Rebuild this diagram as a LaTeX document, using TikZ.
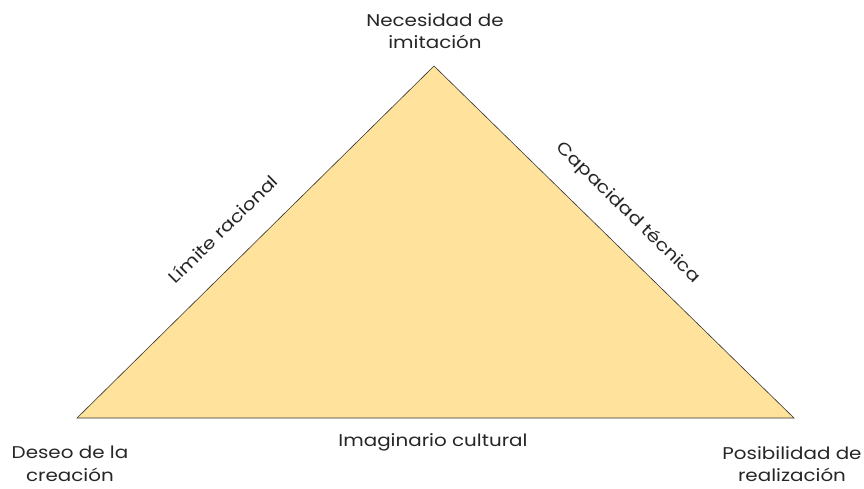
\documentclass[tikz,border=0pt]{standalone}
\usepackage{fontspec}
\setmainfont[FakeStretch=1.17]{Poppins}
\definecolor{tri}{HTML}{FFE29C}
\begin{document}
\begin{tikzpicture}[x=1pt,y=-1pt,
  lbl/.style={font=\fontsize{17}{22.5}\selectfont, align=center, inner sep=0pt, text=black!85}]
\useasboundingbox (0,0) rectangle (864,488);
\coordinate (A) at (434,66);
\coordinate (L) at (77,418);
\coordinate (R) at (794,418);
\filldraw[fill=tri, draw=black!80, line width=0.6pt] (A) -- (R) -- (L) -- cycle;
\node[lbl] (top) at (435,31) {Necesidad de\\imitación};
\node[lbl] (dl) at (70,464) {Deseo de la\\creación};
\node[lbl] (dr) at (792,464) {Posibilidad de\\realización};
\node[lbl] (ic) at (433,442) {Imaginario cultural};
\node[lbl, rotate=44.6] (lr) at (223,229) {Límite racional};
\node[lbl, rotate=-44.4] (ct) at (628,213) {Capacidad técnica};
\end{tikzpicture}
\end{document}
